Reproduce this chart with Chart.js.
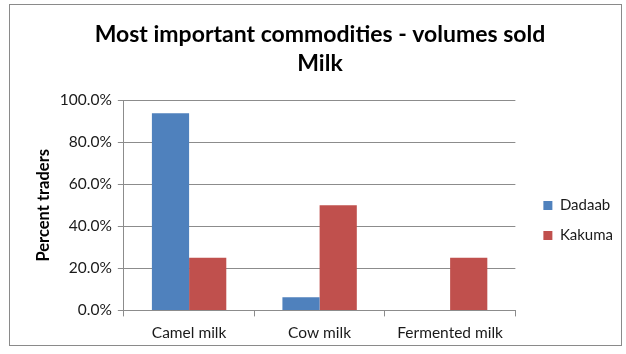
<!DOCTYPE html>
<html lang="en">
<head>
<meta charset="UTF-8">
<title>Milk</title>
<script src="https://cdn.jsdelivr.net/npm/chart.js"></script>
<style>
  body { margin: 0; background: #fff; }
  #wrap { position: relative; width: 626px; height: 354px; }
  #frame { position: absolute; left: 9px; top: 4px; width: 611px; height: 340px; border: 1px solid #8a8a8a; }
  canvas { position: absolute; left: 0; top: 0; }
</style>
</head>
<body>
<div id="wrap">
  <div id="frame"></div>
  <canvas id="myChart" width="626" height="354"></canvas>
</div>
<script>
  const categories = ['Camel milk', 'Cow milk', 'Fermented milk']
  const dadaab = [93.8, 6.3, 0]
  const kakuma = [25, 50, 25]
  const titleLines = ['Most important commodities - volumes sold', 'Milk']
  const yTitle = 'Percent traders'

  const font = 'Lato, "Liberation Sans", sans-serif'
  const gridGrey = '#8c8c8c'
  const textCol = '#1a1a1a'

  // move the legend off the plot a bit and down to mid-height, like the original
  const legendShift = {
    id: 'legendShift',
    afterLayout(chart) {
      const lg = chart.legend
      lg.left += 13
      lg.right += 13
      lg.top += 46
      lg.bottom += 46
    }
  }

  const chart = new Chart(document.getElementById('myChart'), {
    type: 'bar',
    data: {
      labels: categories,
      datasets: [
        { label: 'Dadaab', data: dadaab, backgroundColor: '#4F81BD' },
        { label: 'Kakuma', data: kakuma, backgroundColor: '#C0504D' }
      ]
    },
    plugins: [legendShift],
    options: {
      responsive: false,
      animation: false,
      layout: { padding: { left: 30, right: 16, top: 0, bottom: 5 } },
      datasets: { bar: { categoryPercentage: 0.57, barPercentage: 1 } },
      plugins: {
        title: {
          display: true,
          text: titleLines,
          color: '#000',
          font: { family: font, size: 23, weight: 'bold', lineHeight: 1.22 },
          padding: { top: 21, bottom: 23 }
        },
        legend: {
          position: 'right',
          labels: {
            color: textCol,
            font: { family: font, size: 15 },
            boxWidth: 9,
            boxHeight: 9,
            padding: 15
          }
        },
        tooltip: { enabled: false }
      },
      scales: {
        x: {
          grid: { offset: true, drawOnChartArea: false, color: gridGrey, tickLength: 6 },
          border: { color: gridGrey },
          ticks: { color: textCol, font: { family: font, size: 15.5 }, padding: 7 }
        },
        y: {
          min: 0,
          max: 100,
          ticks: {
            stepSize: 20,
            color: textCol,
            font: { family: font, size: 15.5 },
            padding: 6,
            callback: v => v.toFixed(1) + '%'
          },
          grid: { color: gridGrey, tickLength: 6 },
          border: { color: gridGrey },
          title: {
            display: true,
            text: yTitle,
            color: '#000',
            font: { family: font, size: 16.5, weight: 'bold' },
            padding: { bottom: 0 }
          }
        }
      }
    }
  })
</script>
</body>
</html>
